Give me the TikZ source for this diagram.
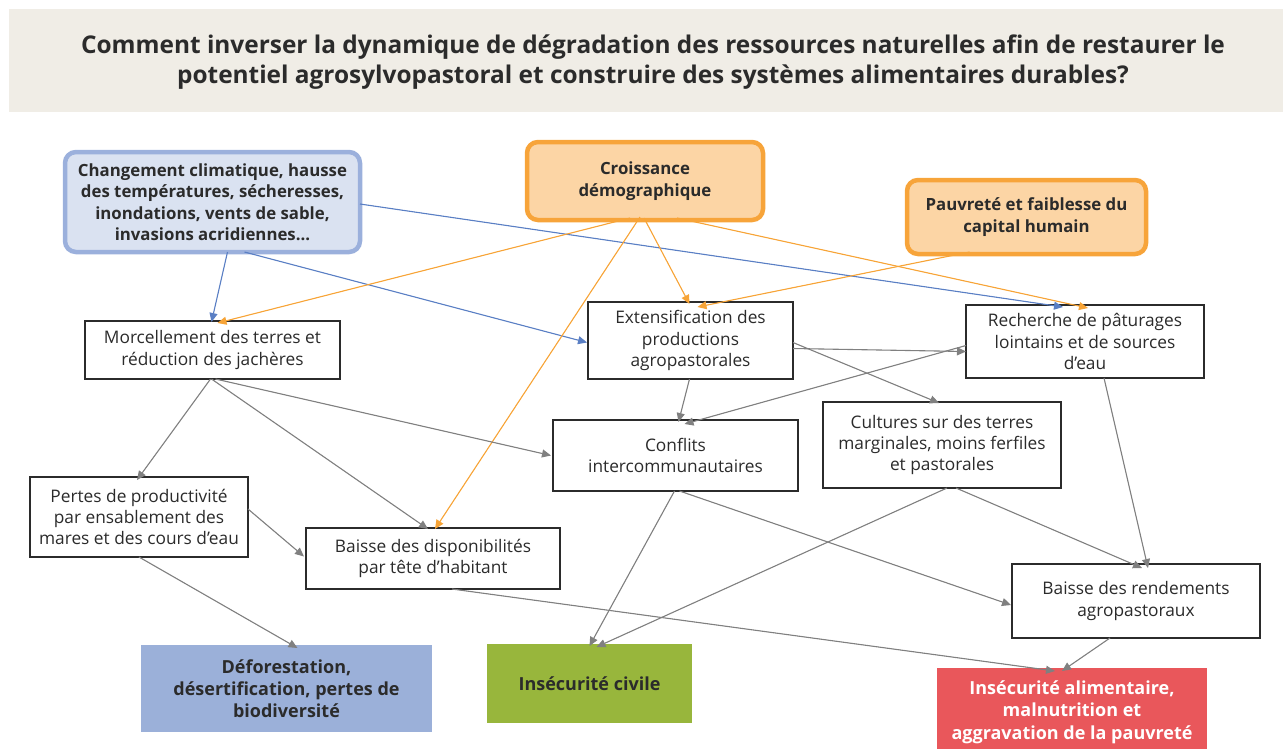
\documentclass[tikz,border=0pt]{standalone}
\usepackage{fontspec}
\setmainfont{Open Sans}
\usetikzlibrary{arrows.meta}
\definecolor{titlebg}{HTML}{F0EDE6}
\definecolor{txt}{HTML}{2B2B2B}
\definecolor{bluefill}{HTML}{DAE2F1}
\definecolor{blueline}{HTML}{9BB0DC}
\definecolor{orfill}{HTML}{FCD5A5}
\definecolor{orline}{HTML}{F7A43A}
\definecolor{defcol}{HTML}{9BB0D9}
\definecolor{civcol}{HTML}{98B63C}
\definecolor{alicol}{HTML}{E9575B}
\definecolor{grayarr}{HTML}{808080}
\definecolor{bluearr}{HTML}{5A7FC4}
\definecolor{orarr}{HTML}{F7A437}
\tikzset{
  every node/.style={inner sep=0pt, outer sep=0pt, align=center, text=txt},
  plain/.style={draw=txt, line width=1.3pt, fill=white, font=\fontsize{17.3}{21.3}\selectfont},
  cause/.style={rounded corners=11pt, line width=4.5pt, font=\bfseries\fontsize{16.8}{21.5}\selectfont},
  bluecause/.style={cause, draw=blueline, fill=bluefill},
  orcause/.style={cause, draw=orline, fill=orfill},
  result/.style={font=\bfseries\fontsize{18}{22.3}\selectfont},
  conn/.style={line width=1.1pt, -{Triangle[length=9pt,width=8pt]}},
  garr/.style={conn, draw=grayarr, fill=grayarr},
  barr/.style={conn, draw=bluearr, fill=bluearr},
  oarr/.style={conn, draw=orarr, fill=orarr},
}
\newcommand{\boxnode}[7]{% style, name, x1,y1,x2,y2, text
  \node[#1, minimum width=#5pt-#3pt, minimum height=#6pt-#4pt] (#2) at ({(#3+#5)/2},{(#4+#6)/2}) {#7};}
\begin{document}
\begin{tikzpicture}[x=1pt,y=-1pt]
\useasboundingbox (0,0) rectangle (1283,748);
\fill[titlebg] (9,9) rectangle (1283,112);
\node[font=\bfseries\fontsize{24.4}{30}\selectfont] (title) at (653,62)
  {Comment inverser la dynamique de dégradation des ressources naturelles afin de restaurer le\\
   potentiel agrosylvopastoral et construire des systèmes alimentaires durables?};

\boxnode{bluecause}{clim}{65}{152}{360}{252}{Changement climatique, hausse\\des températures, sécheresses,\\inondations, vents de sable,\\invasions acridiennes...}
\boxnode{orcause}{crois}{527}{142}{763}{220}{Croissance\\démographique}
\boxnode{orcause}{pauv}{907}{180}{1146}{254}{Pauvreté et faiblesse du\\capital humain}

\boxnode{plain}{morc}{85}{321}{340}{379}{Morcellement des terres et\\réduction des jachères}
\boxnode{plain}{ext}{588}{302}{793}{379}{Extensification des\\productions\\agropastorales}
\boxnode{plain}{rech}{966}{305}{1204}{378}{Recherche de pâturages\\lointains et de sources\\d’eau}
\boxnode{plain}{conf}{553}{420}{798}{491}{Conflits\\intercommunautaires}
\boxnode{plain}{cult}{823}{402}{1061}{488}{Cultures sur des terres\\marginales, moins ferfiles\\et pastorales}
\boxnode{plain}{pert}{30}{477}{248}{557}{Pertes de productivité\\par ensablement des\\mares et des cours d’eau}
\boxnode{plain}{disp}{306}{528}{560}{589}{Baisse des disponibilités\\par tête d’habitant}
\boxnode{plain}{rend}{1012}{564}{1260}{638}{Baisse des rendements\\agropastoraux}

\boxnode{result, fill=defcol}{defo}{141}{645}{432}{732}{Déforestation,\\désertification, pertes de\\biodiversité}
\boxnode{result, fill=civcol}{civ}{487}{644}{692}{723}{Insécurité civile}
\node[result, fill=alicol, text=white, minimum width=270pt, minimum height=88pt, anchor=north west] (ali) at (937,668)
  {Insécurité alimentaire,\\malnutrition et\\aggravation de la pauvreté};

% blue connectors
\draw[barr] ([xshift=15pt]clim.south) -- ([xshift=-1pt,yshift=-1pt]morc.north);
\draw[barr] ([xshift=32pt]clim.south) -- ([xshift=-1pt,yshift=-2pt]ext.west);
\draw[barr] ([yshift=-2pt]clim.east) -- ([xshift=-22pt,yshift=-2pt]rech.north);

% orange connectors
\draw[oarr] ([xshift=-15pt,yshift=2pt]crois.south) -- ([xshift=5pt,yshift=-2pt]morc.north);
\draw[oarr] ([xshift=-1pt,yshift=2pt]crois.south) -- ([xshift=-1pt,yshift=-2pt]ext.north);
\draw[oarr] ([xshift=-5pt,yshift=3pt]crois.south) -- ([xshift=2pt,yshift=-1pt]disp.north);
\draw[oarr] ([xshift=32pt,yshift=2pt]crois.south) -- ([xshift=3pt,yshift=-3pt]rech.north);
\draw[oarr] ([xshift=-57pt,yshift=2pt]pauv.south) -- ([xshift=7pt,yshift=-5pt]ext.north);

% gray connectors
\draw[garr] ([yshift=-8pt]ext.east) -- ([yshift=-10pt]rech.west);
\draw[garr] ([yshift=-2pt]ext.east) -- ([xshift=-3pt,yshift=-1pt]cult.north);
\draw[garr] ([xshift=-1pt]ext.south) -- ([xshift=3pt,yshift=-2pt]conf.north);
\draw[garr] ([yshift=-4pt]rech.west) -- ([xshift=9pt,yshift=-4pt]conf.north);
\draw[garr] ([xshift=-2pt]morc.south) -- ([xshift=-2pt,yshift=-3pt]pert.north);
\draw[garr] ([xshift=-1pt]morc.south) -- ([xshift=-5pt,yshift=-1pt]disp.north);
\draw[garr] ([xshift=3pt]morc.south) -- ([xshift=-2pt]conf.west);
\draw[garr] ([yshift=8pt]pert.east) -- ([xshift=-2pt,yshift=2pt]disp.west);
\draw[garr] ([xshift=0pt]pert.south) -- ([xshift=11pt,yshift=-3pt]defo.north);
\draw[garr] ([xshift=19pt]disp.south) -- ([xshift=-17pt,yshift=-3pt]ali.north);
\draw[garr] ([xshift=-1pt]conf.south) -- ([xshift=0pt,yshift=-2pt]civ.north);
\draw[garr] ([xshift=4pt]conf.south) -- ([xshift=-1pt,yshift=-4pt]rend.west);
\draw[garr] ([xshift=5pt]cult.south) -- ([xshift=7pt,yshift=-3pt]civ.north);
\draw[garr] ([xshift=14pt]cult.south) -- ([xshift=6pt,yshift=-4pt]rend.north);
\draw[garr] ([xshift=19pt]rech.south) -- ([xshift=12pt,yshift=-4pt]rend.north);
\draw[garr] ([xshift=-26pt]rend.south) -- ([xshift=-10pt,yshift=-3pt]ali.north);
\end{tikzpicture}
\end{document}
